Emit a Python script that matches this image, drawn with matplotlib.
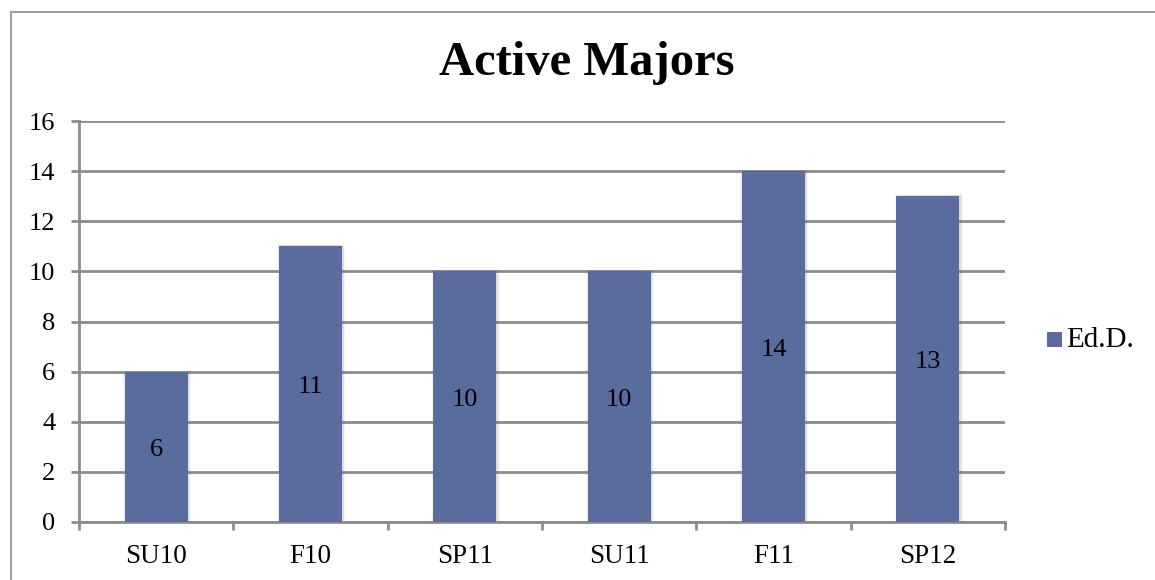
import matplotlib
matplotlib.use("Agg")
import matplotlib.pyplot as plt
from matplotlib.patches import Rectangle
import numpy as np

categories = ["SU10", "F10", "SP11", "SU11", "F11", "SP12"]
values = [6, 11, 10, 10, 14, 13]
series_name = "Ed.D."
title = "Active Majors"
yticks = [0, 2, 4, 6, 8, 10, 12, 14, 16]

plt.rcParams['font.family'] = ['Liberation Serif', 'DejaVu Serif']

W, H = 1155, 580
fig = plt.figure(figsize=(W / 100, H / 100), dpi=100)
ax = fig.add_axes([79 / W, 1 - 522 / H, (1005 - 79) / W, (522 - 121) / H])

bar_color = "#5A6B9E"
grid_color = "#8C8C8C"
x = np.arange(len(categories))

# soft shadow
for k, a in [(0.030, 0.05), (0.018, 0.07), (0.008, 0.09)]:
    ax.bar(x + 0.006, [v + 0.04 for v in values], width=0.41 + k, color="#606060",
           alpha=a, zorder=2, linewidth=0)
bars = ax.bar(x, values, width=0.41, color=bar_color, zorder=3, label=series_name)

for xi, v in zip(x, values):
    ax.annotate(str(v), (xi, v / 2), xytext=(0, -3), textcoords="offset pixels",
                ha="center", va="center", fontsize=19, color="black", zorder=4)

ax.set_xlim(-0.5, len(categories) - 0.5)
ax.set_ylim(0, 16)
ax.set_yticks(yticks)
ax.set_yticklabels([str(t) for t in yticks], fontsize=19)
ax.yaxis.grid(True, color=grid_color, linewidth=2, zorder=0)
ax.set_axisbelow(True)

ax.set_xticks(np.arange(-0.5, len(categories) + 0.5, 1.0))
ax.set_xticklabels([])
ax.set_xticks(x, minor=True)
ax.set_xticklabels(categories, minor=True, fontsize=19.5)
ax.tick_params(axis="x", which="minor", length=0, pad=16)
ax.tick_params(axis="x", which="major", length=6, width=2, color=grid_color)
ax.tick_params(axis="y", length=6, width=2, color=grid_color, pad=11)

for s in ["top", "right"]:
    ax.spines[s].set_visible(False)
for s in ["left", "bottom"]:
    ax.spines[s].set_color(grid_color)
    ax.spines[s].set_linewidth(2)

fig.text(587 / W, 1 - 75 / H, title, ha="center", va="baseline", fontsize=35, fontweight="bold")

# legend
fig.patches.append(Rectangle((1047 / W, 1 - 347 / H), 15 / W, 15 / H,
                             transform=fig.transFigure, facecolor=bar_color, edgecolor="none"))
fig.text(1066 / W, 1 - 340 / H, series_name, ha="left", va="center", fontsize=21)

# chart border
fig.patches.append(Rectangle((10.5 / W, -0.1), 1.2, 1.1 - 11.5 / H,
                             transform=fig.transFigure, facecolor="none",
                             edgecolor="#A0A0A0", linewidth=1.5))

fig.savefig("out.png", dpi=100)
